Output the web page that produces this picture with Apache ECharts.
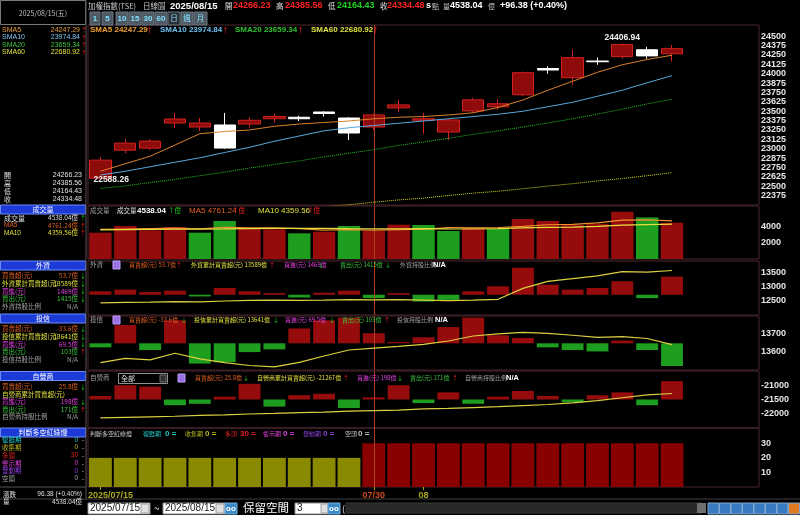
<!DOCTYPE html>
<html><head><meta charset="utf-8">
<script src="https://cdn.jsdelivr.net/npm/echarts@6/dist/echarts.min.js"></script>
<style>html,body{margin:0;padding:0;background:#000;}#c{width:800px;height:515px;}</style>
</head><body><div id="c"></div>
<script>
// ---------- data ----------
const dates = ['2025/07/15','2025/07/16','2025/07/17','2025/07/18','2025/07/21','2025/07/22','2025/07/23','2025/07/24','2025/07/25','2025/07/28','2025/07/29','2025/07/30','2025/07/31','2025/08/01','2025/08/04','2025/08/05','2025/08/06','2025/08/07','2025/08/08','2025/08/11','2025/08/12','2025/08/13','2025/08/14','2025/08/15'];
const padSlots = ['','',''];
// [open, close, low, high]
const candles = [
 [22607,22848,22588.26,22890],[22981,23075,22940,23128],[23008,23102,22980,23128],[23343,23397,23277,23478],
 [23290,23343,23236,23411],[23317,23009,23000,23478],[23330,23380,23280,23420],[23400,23430,23350,23470],
 [23420,23400,23370,23440],[23490,23470,23430,23500],[23410,23210,23116,23420],[23290,23451,23250,23470],
 [23545,23585,23490,23650],[23380,23400,23200,23480],[23223,23384,23116,23400],[23504,23652,23480,23680],
 [23560,23600,23520,23660],[23719,24014,23700,24030],[24070,24050,24000,24100],[23947,24215,23853,24322],
 [24170,24160,24120,24215],[24228,24389,24200,24406.94],[24320,24238.10,24200,24360],[24266.23,24334.48,24164.43,24385.56]
];
const sma5  = [22700,22800,22900,23050,23200,23230,23250,23300,23330,23350,23370,23400,23420,23430,23450,23480,23550,23650,23780,23900,24020,24120,24190,24247.29];
const sma10 = [22650,22700,22760,22820,22880,22950,23020,23100,23170,23240,23280,23310,23340,23370,23400,23430,23460,23500,23560,23620,23700,23780,23880,23974.84];
const sma20 = [22470,22505,22550,22592,22640,22688,22742,22790,22838,22893,22940,22988,23045,23090,23138,23192,23238,23290,23342,23400,23462,23528,23598,23659.34];
const sma60 = [21950,21982,22015,22047,22073,22104,22138,22163,22196,22228,22254,22287,22318,22342,22376,22408,22433,22467,22502,22534,22571,22603,22641,22680.92];
const volume = [3290,4125,3590,4000,3290,4750,3840,3710,3210,3410,4125,3540,4290,4250,3500,3920,3750,5000,4750,4250,4400,5900,5200,4538.04];
const volUp  = [1,1,1,1,0,0,1,1,0,1,0,1,1,0,0,1,0,1,1,1,1,1,0,1];
const volMa5  = [3700,3750,3800,3850,3760,3950,3900,3880,3800,3600,3660,3610,3660,3720,3940,3900,3940,4080,4280,4330,4510,4860,4900,4761.24];
const volMa10 = [3650,3680,3700,3720,3740,3760,3800,3820,3830,3840,3800,3780,3770,3790,3760,3750,3800,3880,3950,3990,4090,4230,4300,4359.56];
const foreignNet = [10,15,8,12,-5,20,10,5,-8,6,12,-10,5,-20,-15,10,25,80,30,15,20,40,-10,53.7];
const foreignCum = [12430,12450,12460,12480,12470,12500,12520,12530,12520,12530,12550,12540,12550,12530,12510,12530,12560,12950,13200,13300,13400,13550,13530,13589];
const trustNet = [-6,27,-10,34,-30,-28,-13,-9,22,34,38,15,2,9,24,38,12,8,-6,-10,-12,4,-10,-33.6];
const trustCum = [13541,13565,13556,13593,13562,13541,13525,13517,13542,13578,13611,13622,13631,13642,13661,13689,13701,13709,13703,13693,13681,13685,13675,13641];
const dealerNet = [5,20,18,-8,-6,4,22,-10,6,8,-12,3,20,-5,10,-6,4,12,5,-4,6,10,-8,25.8];
const dealerCum = [-22140,-22120,-22100,-22080,-22050,-22030,-22000,-21980,-21950,-21930,-21900,-21880,-21860,-21820,-21800,-21770,-21740,-21700,-21660,-21600,-21520,-21420,-21320,-21267];
const signalVal   = [20,20,20,20,20,20,20,20,20,20,20,30,30,30,30,30,30,30,30,30,30,30,30,30];
const signalPhase = ['收集期','收集期','收集期','收集期','收集期','收集期','收集期','收集期','收集期','收集期','收集期','多頭','多頭','多頭','多頭','多頭','多頭','多頭','多頭','多頭','多頭','多頭','多頭','多頭'];
const xTickDates  = ['2025/07/15','2025/07/30','2025/08/01'];
const xTickLabels = ['2025/07/15','07/30','08'];
const crossDate = '2025/07/30';

// ---------- styling ----------
const RED='#960c0c', GRN='#1e9e1e', CJK='"Noto Sans CJK TC"', NUM='"Liberation Sans"', CUM='#dcd040';
const cats = dates.concat(padSlots.map((_,i)=>' '.repeat(i+1)));
const G = [{top:25,height:180},{top:206,height:53},{top:261,height:54},{top:316,height:54},{top:371,height:57},{top:428,height:59}];
const grids = G.map(g=>({left:88,right:41,top:g.top,height:g.height,show:true,borderColor:'#4a2630',borderWidth:1}));
const xAxes = G.map((g,k)=>({type:'category',gridIndex:k,data:cats,boundaryGap:true,
  axisLine:{show:false},splitLine:{show:false},
  axisTick:{show:k===5,alignWithLabel:true,length:3,lineStyle:{color:'#a8a820'},interval:(i)=>xTickDates.indexOf(cats[i])>=0},
  axisLabel:{show:k===5,interval:0,margin:4,fontSize:9,fontFamily:NUM,fontWeight:'bold',color:'#a8a820',
    formatter:(v)=>{const j=xTickDates.indexOf(v); if(j<0) return ''; if(v===crossDate) return '{r|'+xTickLabels[j]+'}'; return j===0?'{f|'+xTickLabels[j]+'}':xTickLabels[j];},
    rich:{r:{color:'#d04a20',fontSize:9,fontFamily:NUM,fontWeight:'bold'},f:{color:'#a8a820',fontSize:9,fontFamily:NUM,fontWeight:'bold',padding:[0,0,0,20]}}}}));
function rAxis(k,min,max,interval,shown){return {type:'value',gridIndex:k,position:'right',min,max,interval,
  axisLine:{show:false},axisTick:{show:false},splitLine:{show:false},
  axisLabel:{margin:2,fontSize:9,fontFamily:NUM,fontWeight:'bold',color:'#e6e6e6',formatter:(v)=>shown(v)?String(v):''}};}
function hAxis(k,min,max){return {type:'value',gridIndex:k,position:'left',min,max,show:false,splitLine:{show:false}};}
const yAxes = [
  rAxis(0,22250,24650,125,v=>v>=22375&&v<=24500),
  rAxis(1,0,6625,2000,v=>v===2000||v===4000),
  hAxis(2,-60,100),
  rAxis(2,12000,13929,500,v=>v>=12500&&v<=13500),
  hAxis(3,-39.5,40.4),
  rAxis(3,13500,13800,100,v=>v===13600||v===13700),
  hAxis(4,-40,40),
  rAxis(4,-22500,-20464,500,v=>v>=-22000&&v<=-21000),
  rAxis(5,0,40.5,10,v=>v>=10&&v<=30)
];
function cross(){return {symbol:['none','none'],silent:true,label:{show:false},lineStyle:{color:'#b0401e',type:'solid',width:1},data:[{xAxis:crossDate}]};}
function netBars(x,y,arr){return {type:'bar',xAxisIndex:x,yAxisIndex:y,barWidth:'88%',data:arr.map(v=>({value:v,itemStyle:{color:v>=0?RED:GRN}})),markLine:cross()};}
function line(x,y,arr,color,type,w){return {type:'line',xAxisIndex:x,yAxisIndex:y,data:arr.slice(),showSymbol:false,lineStyle:{color,width:w||1,type:type||'solid'},z:5};}
const hiIdx = candles.reduce((b,c,i)=>c[3]>candles[b][3]?i:b,0);
const loIdx = candles.reduce((b,c,i)=>c[2]<candles[b][2]?i:b,0);
const series = [
  {type:'candlestick',xAxisIndex:0,yAxisIndex:0,data:candles,barWidth:'88%',
   itemStyle:{color:'#8e0b0b',color0:'#ffffff',borderColor:'#d42020',borderColor0:'#ffffff',borderWidth:1},
   markLine:cross(),
   markPoint:{symbol:'circle',symbolSize:0,silent:true,data:[
     {coord:[dates[hiIdx],candles[hiIdx][3]],label:{show:true,position:'top',distance:1,color:'#f0f0f0',fontSize:8.5,fontFamily:NUM,fontWeight:'bold',formatter:candles[hiIdx][3].toFixed(2)}},
     {coord:[dates[loIdx],candles[loIdx][2]],label:{show:true,position:'right',offset:[-12,0],color:'#f0f0f0',fontSize:8.5,fontFamily:NUM,fontWeight:'bold',formatter:candles[loIdx][2].toFixed(2)}}]}},
  line(0,0,sma5,'#d9822b'),line(0,0,sma10,'#5aa9df'),line(0,0,sma20,'#22c422','dotted'),line(0,0,sma60,'#d8d820','dotted'),
  {type:'bar',xAxisIndex:1,yAxisIndex:1,barWidth:'90%',data:volume.map((v,i)=>({value:v,itemStyle:{color:volUp[i]?RED:GRN}})),markLine:cross()},
  line(1,1,volMa5,'#f09030','solid',1.2),line(1,1,volMa10,'#e8e040','solid',1.2),
  netBars(2,2,foreignNet),line(2,3,foreignCum,CUM,'solid',1.2),
  netBars(3,4,trustNet),line(3,5,trustCum,CUM,'solid',1.2),
  netBars(4,6,dealerNet),line(4,7,dealerCum,CUM,'solid',1.2),
  {type:'bar',xAxisIndex:5,yAxisIndex:8,barWidth:'92%',data:signalVal.map((v,i)=>({value:v,itemStyle:{color:signalPhase[i]==='多頭'?'#880000':'#8a8a00'}})),markLine:cross()}
];

// ---------- texts / decorations ----------
const g = [];
function T(x,y,s,fill,o){o=o||{};g.push({type:'text',x,y,z:50,silent:true,style:{text:s,fill,font:(o.w||'normal')+' '+(o.size||7)+'px '+(o.f||CJK),align:o.a||'left',textAlign:o.a||'left',verticalAlign:'middle',textVerticalAlign:'middle'}});}
function R(x,y,w,h,fill,stroke){g.push({type:'rect',z:40,silent:true,shape:{x,y,width:w,height:h},style:{fill,stroke:stroke||null,lineWidth:1}});}
function L(x1,y1,x2,y2,c){g.push({type:'line',z:41,silent:true,shape:{x1,y1,x2,y2},style:{stroke:c,lineWidth:1}});}
// header
T(88,6,'加權指數(TSE)','#c8c8c8',{size:7.5});
T(143,6,'日線圖','#c8c8c8',{size:7.5});
T(170,6,'2025/08/15','#ffffff',{size:9.5,w:'bold',f:NUM});
T(225,6,'開','#e0e0e0',{size:7.5});T(233,6,'24266.23','#ff2020',{size:9,w:'bold',f:NUM});
T(276,6,'高','#e0e0e0',{size:7.5});T(285,6,'24385.56','#ff2020',{size:9,w:'bold',f:NUM});
T(328,6,'低','#e0e0e0',{size:7.5});T(337,6,'24164.43','#20d020',{size:9,w:'bold',f:NUM});
T(380,6,'收','#e0e0e0',{size:7.5});T(387,6,'24334.48','#ff2020',{size:9,w:'bold',f:NUM});
T(426,6,'s','#ffffff',{size:9,w:'bold',f:NUM});T(432,6,'點','#c8c8c8',{size:7});
T(443,6,'量','#c8c8c8',{size:7});T(450,6,'4538.04','#ffffff',{size:9,w:'bold',f:NUM});T(488,6,'億','#c8c8c8',{size:7});
T(500,6,'+96.38 (+0.40%)','#ffffff',{size:9,w:'bold',f:NUM});
// period buttons
const btns=[['1',90,10],['5',102,11],['10',116,12],['15',129,12],['30',142,12],['60',155,12],['日',168,12],['週',181,12],['月',194,13]];
btns.forEach(b=>{R(b[1],12,b[2],13,b[0]==='日'?'#2a2e33':'#4f5963','#6b7680');T(b[1]+b[2]/2,18.5,b[0],'#7fe0ff',{size:/\d/.test(b[0])?8:7.5,a:'center',w:/\d/.test(b[0])?'bold':'normal',f:/\d/.test(b[0])?NUM:CJK});});
// sidebar
L(86,0,86,499,'#555');
R(0.5,0.5,85,24,'#000','#7a7a7a');
T(43,13,'2025/08/15(五)','#c0c0c0',{size:7,a:'center'});
[['SMA5','24247.29','#e8a040',30],['SMA10','23974.84','#7cc4f0',37.5],['SMA20','23659.34','#3cc43c',45],['SMA60','22680.92','#e0e040',52.5]].forEach(r=>{
  T(2,r[3],r[0],r[2],{size:7,f:NUM});T(80,r[3],r[1],r[2],{size:7,a:'right',f:NUM});T(84,r[3],'↑','#ff2020',{size:6,a:'center'});});
[['開','24266.23',175],['高','24385.56',183],['低','24164.43',191],['收','24334.48',199]].forEach(r=>{T(4,r[2],r[0],'#e0e0e0',{size:7});T(82,r[2],r[1],'#e0e0e0',{size:7,a:'right',f:NUM});});
function head(y,s){R(0.5,y,85,9,'#1b3ad6','#6f8cff');T(43,y+4.5,s,'#ffffff',{size:7,a:'center'});}
head(205,'成交量');
T(4,218,'成交量','#e0e0e0',{size:7});T(78,218,'4538.04億','#e0e0e0',{size:6.5,a:'right'});T(83,218,'↑','#20d020',{size:6,a:'center'});
T(4,225.5,'MA5','#e06020',{size:6.5,f:NUM});T(78,225.5,'4761.24億','#e06020',{size:6.5,a:'right'});T(83,225.5,'↑','#ff2020',{size:6,a:'center'});
T(4,233,'MA10','#e0e040',{size:6.5,f:NUM});T(78,233,'4359.56億','#e0e040',{size:6.5,a:'right'});T(83,233,'↑','#ff2020',{size:6,a:'center'});
function block(y0,title,rows){head(y0,title);rows.forEach((r,i)=>{const y=y0+15+i*7.6;T(2,y,r[0],r[2],{size:6.5});T(78,y,r[1],r[2],{size:6.5,a:'right'});if(r[3])T(83,y,r[3][0],r[3][1],{size:6,a:'center'});});}
block(261,'外資',[['買賣超(元)','53.7億','#e06020',['↓','#20d020']],['外資累計買賣超(元)','13589億','#e0e040',['↓','#20d020']],['買進(元)','1469億','#e040e0',['↓','#20d020']],['賣出(元)','1415億','#3cc43c',['↓','#20d020']],['外資持股比例','N/A','#a0a0a0']]);
block(314,'投信',[['買賣超(元)','-33.6億','#e06020',['↓','#20d020']],['投信累計買賣超(元)','13641億','#e0e040',['↓','#20d020']],['買進(元)','69.5億','#e040e0',['↓','#20d020']],['賣出(元)','103億','#3cc43c',['↑','#ff2020']],['投信持股比例','N/A','#a0a0a0']]);
block(371.5,'自營商',[['買賣超(元)','25.8億','#e06020',['↓','#20d020']],['自營商累計買賣超(元)','','#e0e040'],['買進(元)','198億','#e040e0',['↓','#20d020']],['賣出(元)','171億','#3cc43c',['↑','#ff2020']],['自營商持股比例','N/A','#a0a0a0']]);
head(428,'判斷多空紅綠燈');
[['復甦期','0','#20c8c8'],['收集期','0','#b8b820'],['多頭','30','#e02020'],['警示期','0','#e040e0'],['發動期','0','#9040e0'],['空頭','0','#a0a0a0']].forEach((r,i)=>{const y=440+i*7.7;T(2,y,r[0],r[2],{size:6.5});T(78,y,r[1],r[2],{size:6.5,a:'right',f:NUM});T(83,y,'-','#c0c0c0',{size:6.5,a:'center'});});
L(0,487,86,487,'#555');
T(3,494.5,'漲跌','#e0e0e0',{size:6.5});T(82,494.5,'96.38 (+0.40%)','#e0e0e0',{size:6.5,a:'right',f:NUM});
T(3,502,'量','#e0e0e0',{size:6.5});T(82,502,'4538.04億','#e0e0e0',{size:6.5,a:'right'});
// panel legends
T(90,30,'SMA5 24247.29','#f0a030',{size:8,w:'bold',f:NUM});T(146,30,'↑','#ff2020',{size:7});
T(160,30,'SMA10 23974.84','#6cc0f0',{size:8,w:'bold',f:NUM});T(222,30,'↑','#ff2020',{size:7});
T(235,30,'SMA20 23659.34','#30c030',{size:8,w:'bold',f:NUM});T(297,30,'↑','#ff2020',{size:7});
T(311,30,'SMA60 22680.92','#e0e040',{size:8,w:'bold',f:NUM});T(372,30,'↑','#ff2020',{size:7});
T(90,211,'成交量','#a0a0a0',{size:6.5});T(117,211,'成交量','#e0e0e0',{size:6.5});T(137,211,'4538.04','#ffffff',{size:8,w:'bold',f:NUM});T(168,211,'↑億','#20d020',{size:6.5});
T(189,211,'MA5 4761.24','#e06020',{size:8,f:NUM});T(232,211,'↑億','#ff2020',{size:6.5});
T(258,211,'MA10 4359.56','#e0e040',{size:8,f:NUM});T(307,211,'↑億','#ff2020',{size:6.5});
function leg(y,name,items){T(90,y,name,'#a0a0a0',{size:6.5});items.forEach(it=>T(it[0],y,it[1],it[2],{size:it[3]?7.5:6,f:it[3]||CJK,w:it[4]||'normal'}));}
function icon(x,y){R(x,y-4,7,8,'#9a70e0','#c0a0ff');}
leg(265,'外資',[[129,'買賣超(元) 53.7億','#e06020'],[176,'↑','#ff2020'],[191,'外資累計買賣超(元) 13589億','#e0e040'],[269,'↑','#ff2020'],[284,'買進(元) 1469億','#e040e0'],[318,'↓','#20d020'],[340,'賣出(元) 1415億','#3cc43c'],[385,'↓','#20d020'],[400,'外資持股比例','#a0a0a0'],[433,'N/A','#ffffff',NUM,'bold']]);icon(113,265);
leg(319.5,'投信',[[129,'買賣超(元) -33.6億','#e06020'],[181,'↓','#20d020'],[194,'投信累計買賣超(元) 13641億','#e0e040'],[273,'↓','#20d020'],[285,'買進(元) 69.5億','#e040e0'],[329,'↓','#20d020'],[342,'賣出(元) 103億','#3cc43c'],[384,'↑','#ff2020'],[397,'投信持股比例','#a0a0a0'],[435,'N/A','#ffffff',NUM,'bold']]);icon(113,320);
leg(378,'自營商',[[195,'買賣超(元) 25.8億','#e06020'],[243,'↓','#20d020'],[257,'自營商累計買賣超(元) -21267億','#e0e040'],[343,'↑','#ff2020'],[357,'買進(元) 198億','#e040e0'],[397,'↓','#20d020'],[410,'賣出(元) 171億','#3cc43c'],[452,'↑','#ff2020'],[465,'自營商持股比例','#a0a0a0'],[506,'N/A','#ffffff',NUM,'bold']]);
R(118.5,373.5,49,10,'#000','#909090');T(121,378.5,'全部','#e0e0e0',{size:7});R(160,375,6,7,'#303030','#707070');icon(178,378);
T(90,434,'判斷多空紅綠燈','#c8c8c8',{size:6});
[[143,'復甦期','#20c8c8'],[165,'0 =','#20c8c8'],[185,'收集期','#b8b820'],[205,'0 =','#b8b820'],[225,'多頭','#e02020'],[240,'30 =','#e02020'],[263,'警示期','#e040e0'],[283,'0 =','#e040e0'],[303,'發動期','#9040e0'],[323,'0 =','#9040e0'],[345,'空頭','#c0c0c0'],[358,'0 =','#c0c0c0']].forEach(r=>T(r[0],434,r[1],r[2],{size:/\d/.test(r[1])?8:6,w:/\d/.test(r[1])?'bold':'normal',f:/\d/.test(r[1])?NUM:CJK}));
// bottom controls
L(0,499,800,499,'#404040');
R(88,503,62,11,'#ffffff','#909090');T(90,508.5,'2025/07/15','#202020',{size:10,f:NUM});R(141,504,8,9,'#e0e0e0','#a0a0a0');
T(154,508.5,'~','#e0e0e0',{size:10});
R(163,503,62,11,'#ffffff','#909090');T(165,508.5,'2025/08/15','#202020',{size:10,f:NUM});R(216,504,8,9,'#e0e0e0','#a0a0a0');
R(225,503,12,11,'#3a8ac8','#70b0e0');T(231,508.5,'oo','#ffffff',{size:8,a:'center',f:NUM,w:'bold'});
T(243,508,'保留空間','#ffffff',{size:11.5});
R(295,503,33,11,'#ffffff','#909090');T(297,508.5,'3','#202020',{size:10,f:NUM});R(321,504,7,9,'#e0e0e0','#a0a0a0');
R(328,503,12,11,'#3a8ac8','#70b0e0');T(334,508.5,'oo','#ffffff',{size:8,a:'center',f:NUM,w:'bold'});
T(342,508.5,'(','#e0e0e0',{size:9});R(346,503,356,10,'#282828','#383838');R(697,503,9,10,'#707070');
['#3a7ac0','#3a7ac0','#3a7ac0','#3a7ac0','#3a7ac0','#3a7ac0','#3a7ac0','#e07a20'].forEach((c,i)=>R(708+i*11.5,503,11,11,c,'#80a8d0'));
const opt={backgroundColor:'#000',animation:false,grid:grids,xAxis:xAxes,yAxis:yAxes,series,graphic:{elements:g}};
const chart=echarts.init(document.getElementById('c'));
chart.setOption(opt);
</script></body></html>
